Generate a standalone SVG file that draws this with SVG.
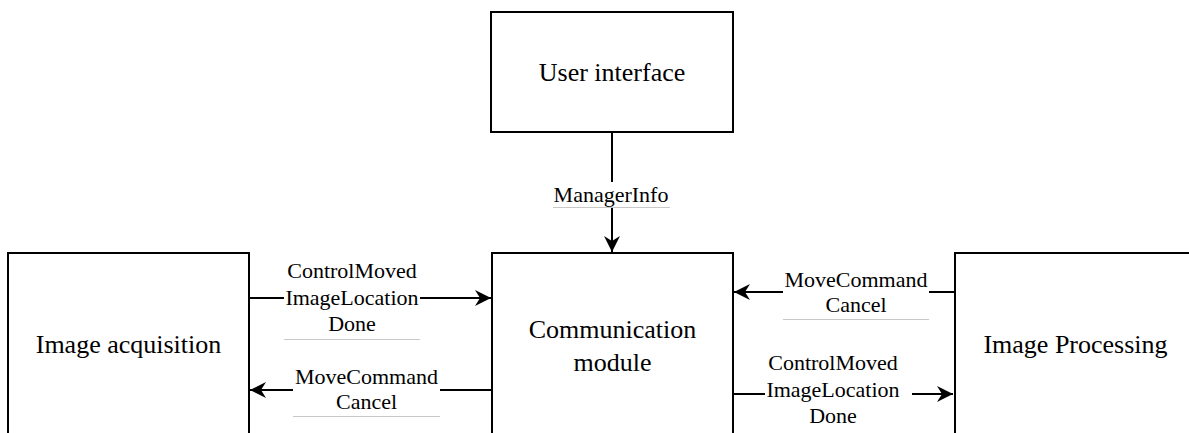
<svg xmlns="http://www.w3.org/2000/svg" width="1189" height="433" viewBox="0 0 1189 433">
  <defs>
    <marker id="arrow" markerUnits="userSpaceOnUse" markerWidth="18" markerHeight="18" refX="16" refY="8" orient="auto">
      <path d="M0,0 L16,8 L0,16 L5,8 Z" fill="#000"/>
    </marker>
    <style>
      .box { fill: #fff; stroke: #000; stroke-width: 2; }
      .node-text { font-family: 'Liberation Serif', serif; font-size: 26px; fill: #000; text-anchor: middle; }
      .edge { fill: none; stroke: #000; stroke-width: 2; }
      .label-bg { fill: #fff; }
      .label-rule { stroke: #c8c8c8; stroke-width: 1; }
      .label { font-family: 'Liberation Serif', serif; font-size: 22px; fill: #000; text-anchor: middle; }
    </style>
  </defs>
  <rect width="1189" height="433" fill="#fff"/>

  <g id="user-interface">
    <rect class="box" x="491" y="12" width="242" height="120"/>
    <text class="node-text" x="612" y="81">User interface</text>
  </g>

  <g id="communication-module">
    <rect class="box" x="492" y="253" width="241" height="200"/>
    <text class="node-text" x="612.5" y="338">Communication</text>
    <text class="node-text" x="612.5" y="371">module</text>
  </g>

  <g id="image-acquisition">
    <rect class="box" x="8" y="253" width="241" height="200"/>
    <text class="node-text" x="128.5" y="353">Image acquisition</text>
  </g>

  <g id="image-processing">
    <rect class="box" x="955" y="253" width="242" height="200"/>
    <text class="node-text" x="1075.5" y="353">Image Processing</text>
  </g>

  <g id="connectors">
    <!-- User interface -> Communication module -->
    <line class="edge" x1="612" y1="132" x2="612" y2="252" marker-end="url(#arrow)"/>
    <rect class="label-bg" x="553" y="182" width="117" height="25"/>
    <line class="label-rule" x1="553" y1="207.5" x2="670" y2="207.5"/>
    <text class="label" x="611" y="202">ManagerInfo</text>

    <!-- Image acquisition -> Communication module -->
    <line class="edge" x1="249" y1="298" x2="491" y2="298" marker-end="url(#arrow)"/>
    <rect class="label-bg" x="284" y="258" width="136" height="81"/>
    <line class="label-rule" x1="284" y1="339.5" x2="420" y2="339.5"/>
    <text class="label" x="352" y="278">ControlMoved</text>
    <text class="label" x="352" y="305">ImageLocation</text>
    <text class="label" x="352" y="331">Done</text>

    <!-- Communication module -> Image acquisition -->
    <line class="edge" x1="492" y1="390" x2="250" y2="390" marker-end="url(#arrow)"/>
    <rect class="label-bg" x="293" y="363" width="147" height="53"/>
    <line class="label-rule" x1="293" y1="416.5" x2="440" y2="416.5"/>
    <text class="label" x="366.5" y="384">MoveCommand</text>
    <text class="label" x="366.5" y="409">Cancel</text>

    <!-- Image Processing -> Communication module -->
    <line class="edge" x1="955" y1="292" x2="734" y2="292" marker-end="url(#arrow)"/>
    <rect class="label-bg" x="783" y="266" width="146" height="53"/>
    <line class="label-rule" x1="783" y1="319.5" x2="929" y2="319.5"/>
    <text class="label" x="856" y="287">MoveCommand</text>
    <text class="label" x="856" y="312">Cancel</text>

    <!-- Communication module -> Image Processing -->
    <line class="edge" x1="733" y1="394" x2="953" y2="394" marker-end="url(#arrow)"/>
    <rect class="label-bg" x="765" y="350" width="147" height="83"/>
    <text class="label" x="833" y="370">ControlMoved</text>
    <text class="label" x="833" y="397">ImageLocation</text>
    <text class="label" x="833" y="423">Done</text>
  </g>
</svg>
